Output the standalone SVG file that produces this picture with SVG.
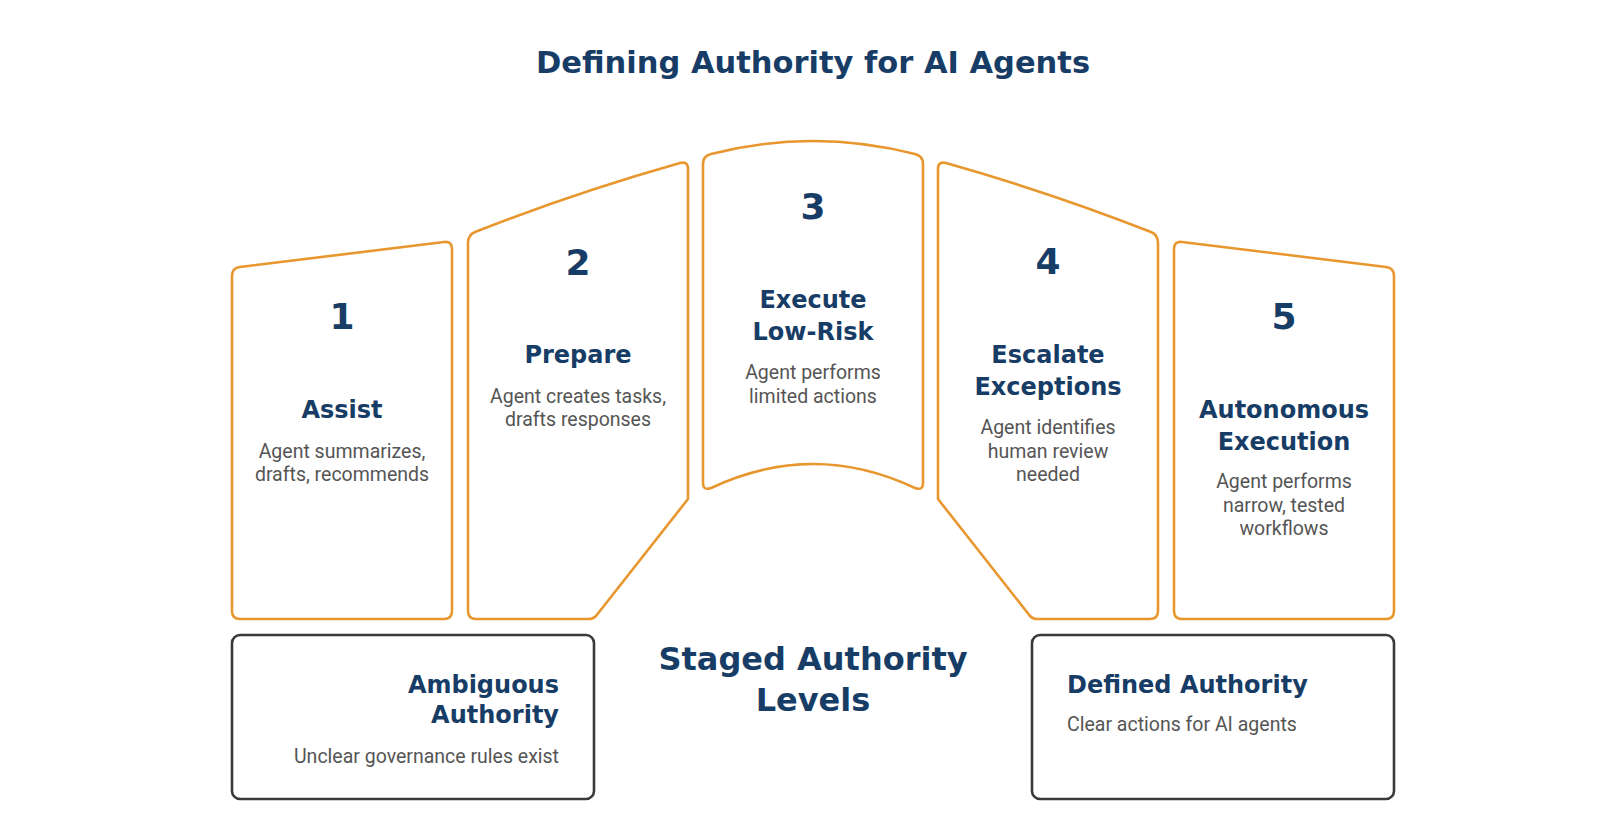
<svg xmlns="http://www.w3.org/2000/svg" width="1600" height="840" viewBox="0 0 1600 840">
<style>
.card{fill:#ffffff;stroke:#E8962E;stroke-width:2.6;stroke-linejoin:round}
.box{fill:#ffffff;stroke:#3a3a3a;stroke-width:2.6}
.num{font-family:"DejaVu Sans","Liberation Sans",sans-serif;font-weight:bold;font-size:36px;fill:#173D66;text-anchor:middle}
.head{font-family:"DejaVu Sans","Liberation Sans",sans-serif;font-weight:bold;font-size:24px;fill:#173D66;text-anchor:middle}
.desc{font-family:Roboto,"Liberation Sans",sans-serif;font-size:19.5px;fill:#555555;text-anchor:middle}
.title{font-family:"DejaVu Sans","Liberation Sans",sans-serif;font-weight:bold;font-size:30.5px;fill:#173D66;text-anchor:middle}
</style>
<rect width="1600" height="840" fill="#ffffff"/>
<text class="title" x="813" y="73">Defining Authority for AI Agents</text>

<g id="card1">
<path class="card" d="M232,276 Q232,268 240,267 L444,242 Q452,241 452,249 L452,611 Q452,619 444,619 L240,619 Q232,619 232,611 Z"/>
<text class="num" x="342" y="329">1</text>
<text class="head" x="342" y="418">Assist</text>
<text class="desc" x="342" y="458">Agent summarizes,</text>
<text class="desc" x="342" y="481">drafts, recommends</text>
</g>

<g id="card2">
<path class="card" d="M468,243 Q468,235 475,232 Q574,193 680,163 Q688,161 688,169 L688,499 L596,616 Q593,619 589,619 L476,619 Q468,619 468,611 Z"/>
<text class="num" x="578" y="275">2</text>
<text class="head" x="578" y="363">Prepare</text>
<text class="desc" x="578" y="403">Agent creates tasks,</text>
<text class="desc" x="578" y="426">drafts responses</text>
</g>

<g id="card3">
<path class="card" d="M703,164 Q703,156 711,154 Q813,128 915,154 Q923,156 923,164 L923,483 Q923,491 915,488 Q813,440 711,488 Q703,491 703,483 Z"/>
<text class="num" x="813" y="219">3</text>
<text class="head" x="813" y="308">Execute</text>
<text class="head" x="813" y="340">Low-Risk</text>
<text class="desc" x="813" y="379">Agent performs</text>
<text class="desc" x="813" y="403">limited actions</text>
</g>

<g id="card4">
<path class="card" d="M1158,243 Q1158,235 1151,232 Q1052,193 946,163 Q938,161 938,169 L938,499 L1030,616 Q1033,619 1037,619 L1150,619 Q1158,619 1158,611 Z"/>
<text class="num" x="1048" y="274">4</text>
<text class="head" x="1048" y="363">Escalate</text>
<text class="head" x="1048" y="395">Exceptions</text>
<text class="desc" x="1048" y="434">Agent identifies</text>
<text class="desc" x="1048" y="458">human review</text>
<text class="desc" x="1048" y="481">needed</text>
</g>

<g id="card5">
<path class="card" d="M1394,276 Q1394,268 1386,267 L1182,242 Q1174,241 1174,249 L1174,611 Q1174,619 1182,619 L1386,619 Q1394,619 1394,611 Z"/>
<text class="num" x="1284" y="329">5</text>
<text class="head" x="1284" y="418">Autonomous</text>
<text class="head" x="1284" y="450">Execution</text>
<text class="desc" x="1284" y="488">Agent performs</text>
<text class="desc" x="1284" y="512">narrow, tested</text>
<text class="desc" x="1284" y="535">workflows</text>
</g>

<g id="ambiguous">
<rect class="box" x="232" y="635" width="362" height="164" rx="8"/>
<text class="head" x="559" y="693" style="text-anchor:end">Ambiguous</text>
<text class="head" x="559" y="723" style="text-anchor:end">Authority</text>
<text class="desc" x="559" y="763" style="text-anchor:end">Unclear governance rules exist</text>
</g>

<g id="staged">
<text class="head" x="813" y="670" style="font-size:32px">Staged Authority</text>
<text class="head" x="813" y="711" style="font-size:32px">Levels</text>
</g>

<g id="defined">
<rect class="box" x="1032" y="635" width="362" height="164" rx="8"/>
<text class="head" x="1067" y="693" style="text-anchor:start">Defined Authority</text>
<text class="desc" x="1067" y="731" style="text-anchor:start">Clear actions for AI agents</text>
</g>
</svg>
